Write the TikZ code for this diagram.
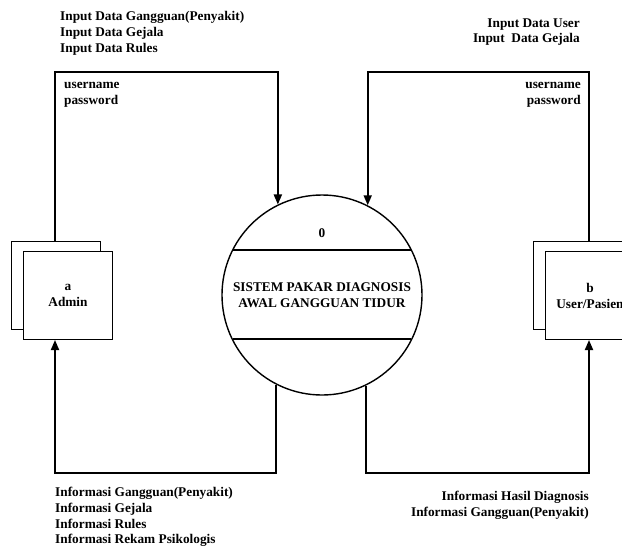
\documentclass[tikz,border=0pt]{standalone}
\usepackage{fontspec}
\setmainfont{Liberation Serif}
\usetikzlibrary{arrows.meta,calc}
\begin{document}
\begin{tikzpicture}[x=1pt,y=-1pt,
  lbl/.style={font=\bfseries\fontsize{13.3}{15.8}\selectfont, inner sep=0pt},
  entbox/.style={draw=black, line width=1pt, fill=white, minimum width=89pt, minimum height=88pt, inner sep=0pt, font=\bfseries\fontsize{13.3}{16}\selectfont, align=center},
  flow/.style={draw=black, line width=1.8pt, -{Triangle[width=8pt,length=10pt]}},
]
\useasboundingbox (0,0) rectangle (622,550);
\begin{scope}
\clip (0,0) rectangle (622,550);
% process
\node[circle, draw=black, line width=1.4pt, minimum size=200pt, inner sep=0pt] (p) at (322,295) {};
\draw[line width=1.6pt] (232.7,250) -- (411.3,250);
\draw[line width=1.6pt] (232.7,339) -- (411.3,339);
\node[lbl] (pnum) at (322,233) {0};
\node[lbl, align=center] (ptxt) at (322,295) {SISTEM PAKAR DIAGNOSIS\\AWAL GANGGUAN TIDUR};
% admin
\node[entbox, anchor=north west] (aback) at (11,241) {};
\node[entbox, anchor=north west] (afront) at (23,251) {a\\Admin};
% user
\node[entbox, anchor=north west, minimum width=110pt] (uback) at (533,241) {};
\node[entbox, anchor=north west] (ufront) at (545,251) {b\\User/Pasien};
\coordinate (ux) at (589,0);
% flows
\draw[flow] (aback.north -| 55,0) -- (55,72) -| (p.116.1);
\draw[flow] (uback.north -| ux) -- (589,72) -| (p.63.9);
\draw[flow] (p.243.9) |- (55,473) -- (afront.south -| 55,0);
\draw[flow] (p.296.1) |- (589,473) -- (ufront.south -| ux);
\end{scope}
% labels
\node[lbl, align=left, anchor=west] (l1) at (60,33) {Input Data Gangguan(Penyakit)\\Input Data Gejala\\Input Data Rules};
\node[lbl, align=left, anchor=west] (l2) at (64,95) {username\\password};
\node[lbl, align=right, anchor=east] (l3) at (580,32) {Input Data User\\Input\ \ Data Gejala};
\node[lbl, align=right, anchor=east] (l4) at (581,95) {username\\password};
\node[lbl, align=left, anchor=west] (l5) at (55,517) {Informasi Gangguan(Penyakit)\\Informasi Gejala\\Informasi Rules\\Informasi Rekam Psikologis};
\node[lbl, align=right, anchor=east] (l6) at (589,505) {Informasi Hasil Diagnosis\\Informasi Gangguan(Penyakit)};
\end{tikzpicture}
\end{document}
